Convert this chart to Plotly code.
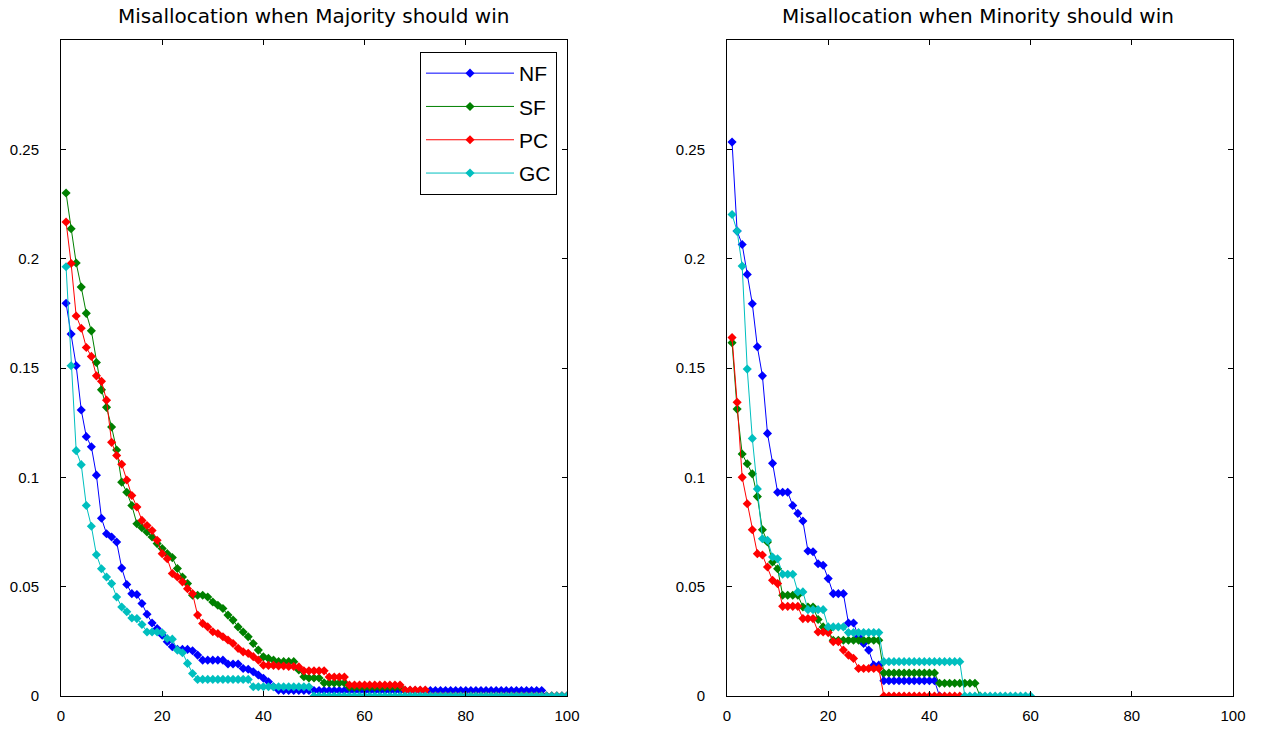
import plotly.graph_objects as go

# ---------------- data ----------------
# Left panel: Misallocation when Majority should win (x = 1..100)
left_nf = [0.1796, 0.1655, 0.151, 0.1308, 0.1186, 0.114, 0.101, 0.0813, 0.0742, 0.0727,
           0.0704, 0.0585, 0.051, 0.0468, 0.0464, 0.0423, 0.0374, 0.0334, 0.0309, 0.0278,
           0.0248, 0.0225, 0.0214, 0.0213, 0.0213, 0.0207, 0.0187, 0.0164, 0.0164, 0.0164,
           0.0164, 0.0164, 0.0146, 0.0146, 0.0146, 0.0126, 0.0122, 0.0111, 0.0096, 0.0081,
           0.0065, 0.0042, 0.0027, 0.0025, 0.0025, 0.0025, 0.0025, 0.0025, 0.0025, 0.0025,
           0.0025, 0.0025, 0.0025, 0.0025, 0.0025, 0.0025, 0.0025, 0.0025, 0.0025, 0.0025,
           0.0025, 0.0025, 0.0025, 0.0025, 0.0025, 0.0025, 0.0025, 0.0025, 0.0025, 0.0025,
           0.0025, 0.0025, 0.0025, 0.0025, 0.0025, 0.0025, 0.0025, 0.0025, 0.0025, 0.0025,
           0.0025, 0.0025, 0.0025, 0.0025, 0.0025, 0.0025, 0.0025, 0.0025, 0.0025, 0.0025,
           0.0025, 0.0025, 0.0025, 0.0025, 0.0025, 0.0, 0.0, 0.0, 0.0, 0.0]
left_sf = [0.230, 0.2137, 0.198, 0.187, 0.175, 0.167, 0.1525, 0.140, 0.132, 0.123,
           0.1125, 0.0978, 0.0932, 0.0871, 0.0788, 0.077, 0.075, 0.0727, 0.0697, 0.0674,
           0.0651, 0.0633, 0.0583, 0.0544, 0.0514, 0.0461, 0.0461, 0.0461, 0.0453, 0.043,
           0.0415, 0.040, 0.037, 0.0347, 0.0316, 0.0293, 0.0271, 0.024, 0.021, 0.0179,
           0.0172, 0.0164, 0.0157, 0.0157, 0.0157, 0.0157, 0.0119, 0.0088, 0.0082, 0.0082,
           0.0082, 0.006, 0.006, 0.006, 0.006, 0.006, 0.004, 0.004, 0.004, 0.004,
           0.004, 0.004, 0.004, 0.004, 0.004, 0.004, 0.004, 0.0, 0.0, 0.0,
           0.0, 0.0, 0.0, 0.0, 0.0, 0.0, 0.0, 0.0, 0.0, 0.0,
           0.0, 0.0, 0.0, 0.0, 0.0, 0.0, 0.0, 0.0, 0.0, 0.0,
           0.0, 0.0, 0.0, 0.0, 0.0, 0.0, 0.0, 0.0, 0.0, 0.0]
left_pc = [0.2168, 0.1978, 0.1738, 0.1682, 0.1594, 0.1553, 0.1464, 0.1439, 0.1353, 0.116,
           0.110, 0.106, 0.0988, 0.0917, 0.0864, 0.0803, 0.078, 0.0757, 0.0712, 0.0651,
           0.0628, 0.056, 0.0544, 0.0522, 0.0491, 0.0468, 0.037, 0.0332, 0.0316, 0.0294,
           0.0286, 0.0271, 0.0256, 0.024, 0.0218, 0.0202, 0.0195, 0.018, 0.0164, 0.0141,
           0.014, 0.014, 0.0137, 0.0137, 0.0135, 0.0135, 0.0133, 0.0115, 0.0115, 0.0115,
           0.0115, 0.0115, 0.0087, 0.0087, 0.0087, 0.0087, 0.005, 0.005, 0.005, 0.005,
           0.005, 0.005, 0.005, 0.005, 0.005, 0.005, 0.005, 0.0027, 0.0027, 0.0027,
           0.0027, 0.0027, 0.0, 0.0, 0.0, 0.0, 0.0, 0.0, 0.0, 0.0,
           0.0, 0.0, 0.0, 0.0, 0.0, 0.0, 0.0, 0.0, 0.0, 0.0,
           0.0, 0.0, 0.0, 0.0, 0.0, 0.0, 0.0, 0.0, 0.0, 0.0]
left_gc = [0.1963, 0.151, 0.1122, 0.1058, 0.0871, 0.0776, 0.0646, 0.0582, 0.0544, 0.0514,
           0.0453, 0.0407, 0.0385, 0.0357, 0.0354, 0.0327, 0.0293, 0.0293, 0.0293, 0.0289,
           0.0263, 0.026, 0.021, 0.0198, 0.0149, 0.0103, 0.0076, 0.0076, 0.0076, 0.0076,
           0.0076, 0.0076, 0.0076, 0.0076, 0.0076, 0.0076, 0.0076, 0.0042, 0.0042, 0.0042,
           0.0042, 0.0042, 0.0042, 0.0042, 0.0042, 0.0042, 0.0042, 0.0042, 0.0042, 0.0,
           0.0, 0.0, 0.0, 0.0, 0.0, 0.0, 0.0, 0.0, 0.0, 0.0,
           0.0, 0.0, 0.0, 0.0, 0.0, 0.0, 0.0, 0.0, 0.0, 0.0,
           0.0, 0.0, 0.0, 0.0, 0.0, 0.0, 0.0, 0.0, 0.0, 0.0,
           0.0, 0.0, 0.0, 0.0, 0.0, 0.0, 0.0, 0.0, 0.0, 0.0,
           0.0, 0.0, 0.0, 0.0, 0.0, 0.0, 0.0, 0.0, 0.0, 0.0]

# Right panel: Misallocation when Minority should win (x = 1..N)
right_nf = [0.2533, 0.2126, 0.2065, 0.1928, 0.1794, 0.1597, 0.1464, 0.1201, 0.1064, 0.0932,
            0.0932, 0.0932, 0.0871, 0.0835, 0.080, 0.0663, 0.066, 0.0605, 0.0598, 0.0537,
            0.0468, 0.0468, 0.0468, 0.0334, 0.0334, 0.0271, 0.024, 0.021, 0.0141, 0.0141,
            0.007, 0.007, 0.007, 0.007, 0.007, 0.007, 0.007, 0.007, 0.007, 0.007,
            0.007, 0.0]
right_sf = [0.1616, 0.1312, 0.1107, 0.1062, 0.1016, 0.0912, 0.076, 0.0704, 0.0613, 0.0582,
            0.0461, 0.0461, 0.0461, 0.0461, 0.0407, 0.0407, 0.0407, 0.035, 0.0316, 0.030,
            0.0255, 0.0255, 0.0255, 0.0255, 0.0255, 0.0255, 0.0255, 0.0255, 0.0255, 0.0255,
            0.0105, 0.0105, 0.0105, 0.0105, 0.0105, 0.0105, 0.0105, 0.0105, 0.0105, 0.0105,
            0.0105, 0.0058, 0.0058, 0.0058, 0.0058, 0.0058, 0.0058, 0.0058, 0.0058, 0.0]
right_pc = [0.1639, 0.1343, 0.100, 0.0879, 0.076, 0.0651, 0.0645, 0.059, 0.0529, 0.0514,
            0.041, 0.041, 0.041, 0.041, 0.0354, 0.0354, 0.0354, 0.0293, 0.0293, 0.029,
            0.0248, 0.0248, 0.021, 0.0187, 0.0172, 0.0126, 0.0126, 0.0126, 0.0126, 0.0126,
            0.0, 0.0, 0.0, 0.0, 0.0, 0.0, 0.0, 0.0, 0.0, 0.0,
            0.0, 0.0, 0.0, 0.0, 0.0, 0.0]
right_gc = [0.2202, 0.2126, 0.1966, 0.1495, 0.1178, 0.0947, 0.0719, 0.0712, 0.0636, 0.0628,
            0.0557, 0.0557, 0.0557, 0.0476, 0.0476, 0.0395, 0.0395, 0.0395, 0.0395, 0.0316,
            0.0316, 0.0316, 0.0316, 0.029, 0.029, 0.029, 0.029, 0.029, 0.029, 0.029,
            0.0157, 0.0157, 0.0157, 0.0157, 0.0157, 0.0157, 0.0157, 0.0157, 0.0157, 0.0157,
            0.0157, 0.0157, 0.0157, 0.0157, 0.0157, 0.0157, 0.0, 0.0, 0.0, 0.0,
            0.0, 0.0, 0.0, 0.0, 0.0, 0.0, 0.0, 0.0, 0.0, 0.0]

series_names = ["NF", "SF", "PC", "GC"]
colors = ["#0000FF", "#008000", "#FF0000", "#00BFBF"]
titles = ["Misallocation when Majority should win", "Misallocation when Minority should win"]
x_ticks = [0, 20, 40, 60, 80, 100]
y_ticks = [0, 0.05, 0.1, 0.15, 0.2, 0.25]
y_tick_labels = ["0", "0.05", "0.1", "0.15", "0.2", "0.25"]

# ---------------- figure ----------------
W, H = 1270, 731
FONT = "Liberation Sans, Arial, sans-serif"
TFONT = "DejaVu Sans, Verdana, sans-serif"


def px(xp):
    return xp / W


def py(yp):
    return 1 - yp / H


fig = go.Figure()

panels = [
    ("x", "y", [left_nf, left_sf, left_pc, left_gc], True),
    ("x2", "y2", [right_nf, right_sf, right_pc, right_gc], False),
]
for xa, ya, data, show in panels:
    for name, col, vals in zip(series_names, colors, data):
        fig.add_trace(go.Scatter(
            x=list(range(1, len(vals) + 1)), y=vals,
            xaxis=xa, yaxis=ya, mode="lines+markers", name=name,
            legendgroup=name, showlegend=show,
            line=dict(color=col, width=1),
            marker=dict(symbol="diamond", size=7, color=col, line=dict(width=0)),
        ))

ax_common = dict(
    showline=True, linecolor="black", linewidth=1, mirror="ticks",
    ticks="inside", ticklen=5, tickcolor="black", tickwidth=1,
    showgrid=False, zeroline=False, automargin=False,
    tickfont=dict(family=FONT, size=15, color="black"),
)
fig.update_layout(
    width=W, height=H,
    margin=dict(l=0, r=0, t=0, b=0),
    paper_bgcolor="white", plot_bgcolor="white",
    xaxis=dict(domain=[px(61), px(567)], range=[0, 100], tickvals=x_ticks, anchor="y",
               ticklabelstandoff=6, **ax_common),
    yaxis=dict(domain=[py(696), py(40)], range=[0, 0.3], tickvals=y_ticks, ticktext=y_tick_labels,
               anchor="x", ticklabelstandoff=18, **ax_common),
    xaxis2=dict(domain=[px(727), px(1233)], range=[0, 100], tickvals=x_ticks, anchor="y2",
                ticklabelstandoff=6, **ax_common),
    yaxis2=dict(domain=[py(696), py(40)], range=[0, 0.3], tickvals=y_ticks, ticktext=y_tick_labels,
                anchor="x2", ticklabelstandoff=18, **ax_common),
    showlegend=True,
    legend=dict(
        x=px(557), xanchor="right", y=py(52), yanchor="top",
        bgcolor="white", bordercolor="black", borderwidth=1,
        font=dict(family=FONT, size=21, color="black"),
        itemwidth=88, tracegroupgap=3,
    ),
    annotations=[
        dict(text=titles[0], x=px(313), y=py(16), xref="paper", yref="paper",
             xanchor="center", yanchor="middle",
             showarrow=False, font=dict(family=TFONT, size=20, color="black")),
        dict(text=titles[1], x=px(978), y=py(16), xref="paper", yref="paper",
             xanchor="center", yanchor="middle",
             showarrow=False, font=dict(family=TFONT, size=20, color="black")),
    ],
)

# remove the browser's default 8px page margin so the figure fills the window
fig.write_html("out.html", config={"displayModeBar": False},
               post_script="document.body.style.margin='0';")
